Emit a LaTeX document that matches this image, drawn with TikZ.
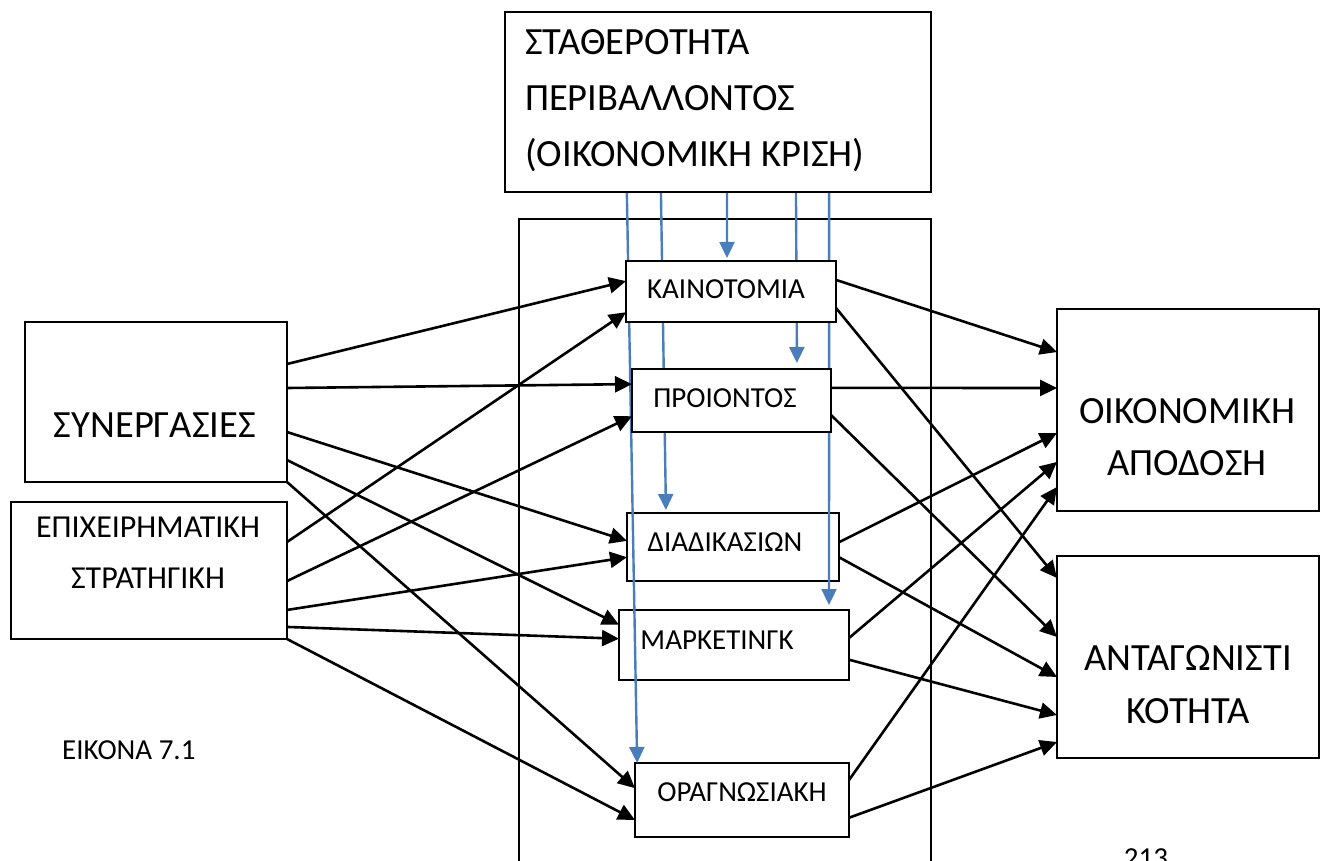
\documentclass[tikz,border=0pt]{standalone}
\usepackage{fontspec}
\setmainfont{Carlito}
\usetikzlibrary{arrows.meta,calc}
\definecolor{blueline}{HTML}{4A7EBB}
\pgfdeclarelayer{low}
\pgfdeclarelayer{mid}
\pgfsetlayers{low,mid,main}
\tikzset{
  box/.style={draw, fill=white, line width=1.3pt, inner sep=0pt, outer sep=0pt},
  conn/.style={line width=2.6pt, -{Triangle[width=16pt,length=17pt]}},
  bconn/.style={draw=blueline, line width=2.4pt, -{Triangle[width=15pt,length=16pt]}},
  bigtxt/.style={anchor=base, inner sep=0pt, font=\fontsize{38.5}{42}\selectfont},
  smalltxt/.style={anchor=base, inner sep=0pt, font=\fontsize{29}{32}\selectfont},
  midtxt/.style={anchor=base, inner sep=0pt, font=\fontsize{32}{36}\selectfont},
}
\begin{document}
\begin{tikzpicture}[x=1pt,y=-1pt]
\clip (0,0) rectangle (1328,861);
\begin{pgfonlayer}{low}
  \fill[white] (0,0) rectangle (1328,861);
  \draw[line width=1.3pt] (519,880) |- (931,219) -- (931,880);
  \node[box, minimum width=212pt, minimum height=68pt] (diad) at (733,547) {};
  \node[box, minimum width=230pt, minimum height=70pt] (mark) at (734,645) {};
  \node[box, minimum width=214pt, minimum height=74pt] (orga) at (742,800) {};
\end{pgfonlayer}
\node[box, minimum width=426pt, minimum height=180pt] (env) at (718,102) {};
\node[box, minimum width=210pt, minimum height=61pt] (kain) at (731,291.5) {};
\node[box, minimum width=199pt, minimum height=63pt] (proi) at (731.5,400.5) {};
\node[box, minimum width=262pt, minimum height=160pt] (syn) at (156,402) {};
\node[box, minimum width=276pt, minimum height=137pt] (epi) at (149,570.5) {};
\node[box, minimum width=262pt, minimum height=202pt] (oik) at (1188,410) {};
\node[box, minimum width=262pt, minimum height=202pt] (ant) at (1188,657) {};

\begin{pgfonlayer}{mid}
  \draw[bconn] ($(env.south west)!0.286!(env.south east)$) -- ($(orga.north west)!0.01!(orga.north east)$);
  \draw[bconn, shorten >=3pt] ($(env.south west)!0.366!(env.south east)$) -- ($(diad.north west)!0.184!(diad.north east)$);
  \draw[bconn, shorten >=3pt] ($(env.south west)!0.521!(env.south east)$) -- ($(kain.north west)!0.481!(kain.north east)$);
  \draw[bconn, shorten >=6pt] ($(env.south west)!0.683!(env.south east)$) -- ($(proi.north west)!0.829!(proi.north east)$);
  \draw[bconn, shorten >=5pt] ($(env.south west)!0.761!(env.south east)$) -- ($(mark.north west)!0.913!(mark.north east)$);
\end{pgfonlayer}

% from SYNERGASIES
\draw[conn] ($(syn.north east)!0.2625!(syn.south east)$) -- ($(kain.north west)!0.33!(kain.south west)$);
\draw[conn] ($(syn.north east)!0.4125!(syn.south east)$) -- ($(proi.north west)!0.24!(proi.south west)$);
\draw[conn] ($(syn.north east)!0.6875!(syn.south east)$) -- ($(diad.north west)!0.41!(diad.south west)$);
\draw[conn] ($(syn.north east)!0.8625!(syn.south east)$) -- ($(mark.north west)!0.21!(mark.south west)$);
\draw[conn] (syn.south east) -- ($(orga.north west)!0.34!(orga.south west)$);
% from EPIXEIRHMATIKH
\draw[conn] ($(epi.north east)!0.292!(epi.south east)$) -- ($(kain.north west)!0.84!(kain.south west)$);
\draw[conn] ($(epi.north east)!0.577!(epi.south east)$) -- ($(proi.north west)!0.75!(proi.south west)$);
\draw[conn] ($(epi.north east)!0.788!(epi.south east)$) -- ($(diad.north west)!0.65!(diad.south west)$);
\draw[conn] ($(epi.north east)!0.912!(epi.south east)$) -- ($(mark.north west)!0.41!(mark.south west)$);
\draw[conn] (epi.south east) -- ($(orga.north west)!0.77!(orga.south west)$);
% to OIKONOMIKH APODOSH
\draw[conn] ($(kain.north east)!0.31!(kain.south east)$) -- ($(oik.north west)!0.213!(oik.south west)$);
\draw[conn] ($(proi.north east)!0.30!(proi.south east)$) -- ($(oik.north west)!0.391!(oik.south west)$);
\draw[conn] ($(diad.north east)!0.43!(diad.south east)$) -- ($(oik.north west)!0.614!(oik.south west)$);
\draw[conn] ($(mark.north east)!0.40!(mark.south east)$) -- ($(oik.north west)!0.757!(oik.south west)$);
\draw[conn] ($(orga.north east)!0.23!(orga.south east)$) -- ($(oik.north west)!0.881!(oik.south west)$);
% to ANTAGONISTIKOTHTA
\draw[conn] ($(kain.north east)!0.77!(kain.south east)$) -- ($(ant.north west)!0.109!(ant.south west)$);
\draw[conn] ($(proi.north east)!0.73!(proi.south east)$) -- ($(ant.north west)!0.401!(ant.south west)$);
\draw[conn] ($(diad.north east)!0.65!(diad.south east)$) -- ($(ant.north west)!0.599!(ant.south west)$);
\draw[conn] ($(mark.north east)!0.71!(mark.south east)$) -- ($(ant.north west)!0.787!(ant.south west)$);
\draw[conn] ($(orga.north east)!0.74!(orga.south east)$) -- ($(ant.north west)!0.921!(ant.south west)$);

% texts
\node[bigtxt, anchor=base west] (envA) at (525,55) {ΣΤΑΘΕΡΟΤΗΤΑ};
\node[bigtxt, anchor=base west] (envB) at (525,111) {ΠΕΡΙΒΑΛΛΟΝΤΟΣ};
\node[bigtxt, anchor=base west] (envC) at (525,167) {(ΟΙΚΟΝΟΜΙΚΗ ΚΡΙΣΗ)};
\node[smalltxt] (kainT) at (726,298) {ΚΑΙΝΟΤΟΜΙΑ};
\node[smalltxt] (proiT) at (725,407) {ΠΡΟΙΟΝΤΟΣ};
\node[smalltxt] (diadT) at (725,551) {ΔΙΑΔΙΚΑΣΙΩΝ};
\node[smalltxt] (markT) at (717,649) {ΜΑΡΚΕΤΙΝΓΚ};
\node[smalltxt] (orgaT) at (742,801) {ΟΡΑΓΝΩΣΙΑΚΗ};
\node[bigtxt] (synT) at (155,437) {ΣΥΝΕΡΓΑΣΙΕΣ};
\node[midtxt] (epiA) at (148,537) {ΕΠΙΧΕΙΡΗΜΑΤΙΚΗ};
\node[midtxt] (epiB) at (148,588) {ΣΤΡΑΤΗΓΙΚΗ};
\node[bigtxt] (oikA) at (1187,423) {ΟΙΚΟΝΟΜΙΚΗ};
\node[bigtxt] (oikB) at (1187,475) {ΑΠΟΔΟΣΗ};
\node[bigtxt] (antA) at (1188,670) {ΑΝΤΑΓΩΝΙΣΤΙ};
\node[bigtxt] (antB) at (1188,723) {ΚΟΤΗΤΑ};
\node[smalltxt, anchor=base west] (fig) at (62,759) {ΕΙΚΟΝΑ 7.1};
\node[smalltxt] (page) at (1146,867) {213};
\end{tikzpicture}
\end{document}
